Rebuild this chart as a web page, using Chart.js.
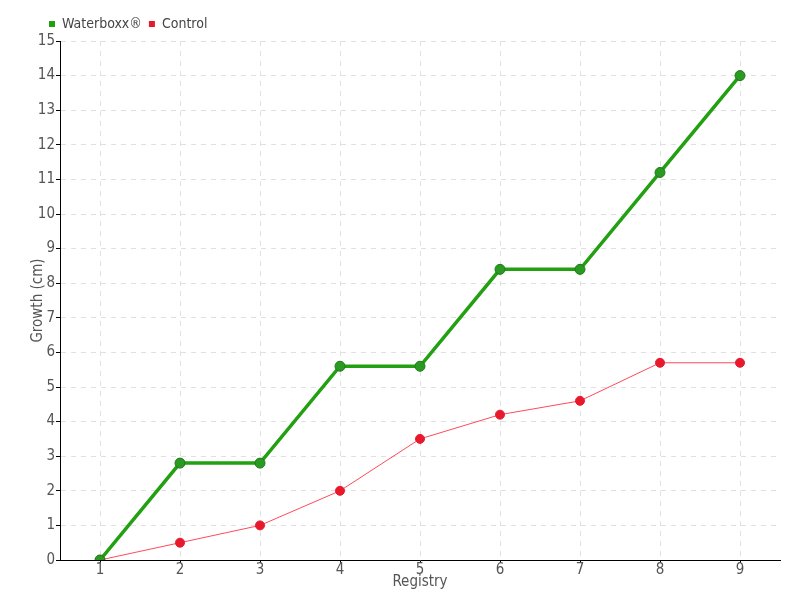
<!DOCTYPE html>
<html><head><meta charset="utf-8">
<script src="https://cdn.jsdelivr.net/npm/chart.js@4"></script>
<style>html,body{margin:0;padding:0;background:#fff}#c{display:block}</style>
</head><body>
<div style="width:800px;height:600px"><canvas id="c" width="800" height="600"></canvas></div>
<script>
const categories = ['1','2','3','4','5','6','7','8','9'];
const waterboxx = [0, 2.8, 2.8, 5.6, 5.6, 8.4, 8.4, 11.2, 14];
const control = [0, 0.5, 1, 2, 3.5, 4.2, 4.6, 5.7, 5.7];
const FONT = "'Liberation Sans Narrow','DejaVu Sans Condensed',sans-serif";
Chart.defaults.font.family = FONT;
const legendShift = {
  id: 'legendShift',
  afterLayout(chart) {
    if (chart.legend) { chart.legend.left += 42; chart.legend.right += 42; }
  }
};
new Chart(document.getElementById('c'), {
  type: 'line',
  plugins: [legendShift],
  data: {
    labels: categories,
    datasets: [
      {label: 'Waterboxx®', data: waterboxx, borderColor: '#22a012', backgroundColor: '#22a012',
       borderWidth: 3.5, pointRadius: 5, pointBackgroundColor: '#2a9a22', pointBorderColor: '#1d7a18', pointBorderWidth: 1, tension: 0},
      {label: 'Control', data: control, borderColor: '#ff4a5a', backgroundColor: '#e8192c',
       borderWidth: 1, pointRadius: 4.5, pointBackgroundColor: '#e8192c', pointBorderColor: '#e8192c', pointBorderWidth: 1, tension: 0}
    ]
  },
  options: {
    responsive: false, animation: false,
    layout: {padding: {left: 0, right: 20, top: 10, bottom: 0}},
    plugins: {
      tooltip: {enabled: false},
      legend: {display: true, position: 'top', align: 'start',
        labels: {boxWidth: 6, boxHeight: 6, padding: 7, color: '#444', font: {size: 14, family: FONT},
          generateLabels(chart) {
            return chart.data.datasets.map((d, i) => ({text: d.label, fillStyle: d.backgroundColor, strokeStyle: d.backgroundColor, lineWidth: 0, datasetIndex: i, fontColor: '#444'}));
          }}}
    },
    scales: {
      x: {offset: true,
        grid: {offset: false, color: '#e0e0e0', tickLength: 3, tickColor: '#000', tickBorderDash: [], drawTicks: true},
        border: {color: '#000', width: 1, dash: [5, 5]},
        ticks: {color: '#555', font: {size: 15}, padding: -2, maxRotation: 0},
        title: {display: true, text: 'Registry', color: '#555', font: {size: 15}, padding: {top: 0, bottom: 9}},
        afterFit(s) { s.height = 40; }
      },
      y: {min: 0, max: 15,
        grid: {color: '#e0e0e0', tickLength: 4, tickColor: '#000', tickBorderDash: []},
        border: {color: '#000', width: 1, dash: [5, 5]},
        ticks: {stepSize: 1, color: '#555', font: {size: 15}, padding: 1},
        title: {display: true, text: 'Growth (cm)', color: '#555', font: {size: 15}, padding: {top: 29, bottom: 0}},
        afterFit(s) { s.width = 60; }
      }
    }
  }
});
</script>
</body></html>
